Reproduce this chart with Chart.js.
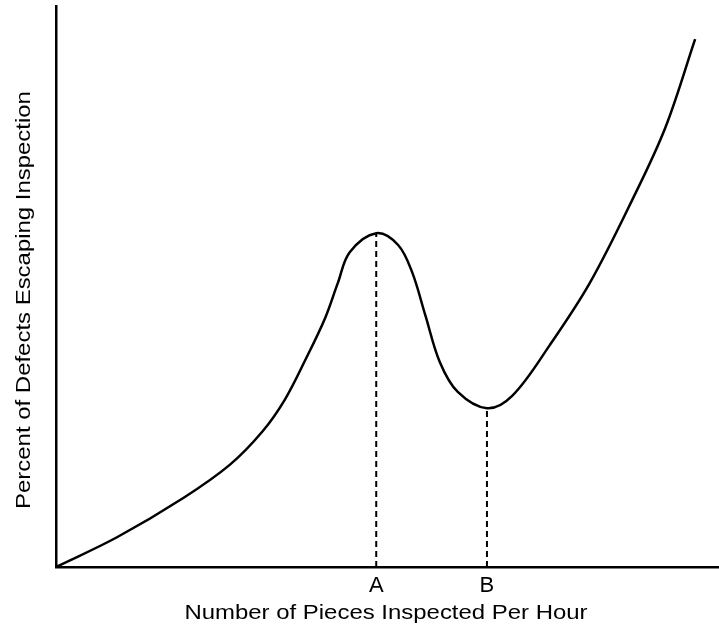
<!DOCTYPE html>
<html>
<head>
<meta charset="utf-8">
<script src="https://cdn.jsdelivr.net/npm/chart.js@4"></script>
<style>
  html, body { margin: 0; padding: 0; background: #fff; }
  #wrap { width: 719px; height: 628px; }
</style>
</head>
<body>
<div id="wrap"><canvas id="c"></canvas></div>
<script>
/* curve (arbitrary units 0-100) */
const curveX = [0, 9.2, 19.2, 26.2, 31.1, 34.5, 37.6, 40.6, 42.5, 44.3, 48.3,
  51.6, 53.7, 55.7, 57.9, 60.6, 65.0, 68.8, 74.5, 80.5, 86.9, 91.9, 96.4];
const curveY = [0, 5.3, 12.3, 18.2, 24.1, 29.8, 36.9, 44.4, 50.6, 56.1, 59.5,
  57.4, 52.6, 44.9, 36.5, 31.2, 28.3, 30.5, 39.6, 50.6, 65.4, 78.3, 94.1];

/* marked points A (peak) and B (trough) */
const markLabels = ['A', 'B'];
const markX = [48.3, 65.0];
const markY = [59.5, 28.3];

const xTitle = 'Number of Pieces Inspected Per Hour';
const yTitle = 'Percent of Defects Escaping Inspection';

const FONT = "'Liberation Sans', Arial, Helvetica, sans-serif";
const STRETCH = 1.14; // reference lettering is wider than Arial

const markerSets = markX.map((x, i) => ({
  data: [{ x: x, y: 0 }, { x: x, y: markY[i] }],
  borderColor: '#000',
  borderWidth: 2,
  borderDash: [6, 4],
  pointRadius: 0,
  fill: false
}));

/* axis titles, placed like the reference */
const axisTitles = {
  id: 'axisTitles',
  afterDraw(chart) {
    const { ctx, chartArea } = chart;
    ctx.save();
    ctx.fillStyle = '#000';
    ctx.font = '21px ' + FONT;
    ctx.textAlign = 'center';
    ctx.textBaseline = 'alphabetic';

    ctx.save();
    ctx.translate(chartArea.left + 330, chartArea.bottom + 52);
    ctx.scale(STRETCH, 1);
    ctx.fillText(xTitle, 0, 0);
    ctx.restore();

    ctx.save();
    ctx.translate(chartArea.left - 26, chartArea.top + 294);
    ctx.rotate(-Math.PI / 2);
    ctx.scale(STRETCH, 1);
    ctx.fillText(yTitle, 0, 0);
    ctx.restore();

    ctx.restore();
  }
};

new Chart(document.getElementById('c'), {
  type: 'line',
  data: {
    datasets: [{
      data: curveX.map((x, i) => ({ x: x, y: curveY[i] })),
      borderColor: '#000',
      borderWidth: 2.5,
      pointRadius: 0,
      tension: 0.35,
      fill: false
    }, ...markerSets]
  },
  options: {
    responsive: true,
    maintainAspectRatio: false,
    animation: false,
    layout: { padding: { top: 6, right: 0, left: 0, bottom: 0 } },
    plugins: { legend: { display: false }, tooltip: { enabled: false } },
    scales: {
      x: {
        type: 'linear',
        min: 0,
        max: 100,
        grid: { display: false, drawTicks: false },
        border: { color: '#000', width: 2.5 },
        afterFit: s => { s.height = 61; },
        afterBuildTicks: s => { s.ticks = markX.map(v => ({ value: v })); },
        ticks: {
          autoSkip: false,
          maxRotation: 0,
          padding: 6,
          color: '#000',
          font: { family: FONT, size: 22 },
          callback: (v) => markLabels[markX.indexOf(v)]
        }
      },
      y: {
        type: 'linear',
        min: 0,
        max: 100,
        grid: { display: false, drawTicks: false },
        border: { color: '#000', width: 2.5 },
        afterFit: s => { s.width = 56; },
        ticks: { display: false }
      }
    }
  },
  plugins: [axisTitles]
});
</script>
</body>
</html>
